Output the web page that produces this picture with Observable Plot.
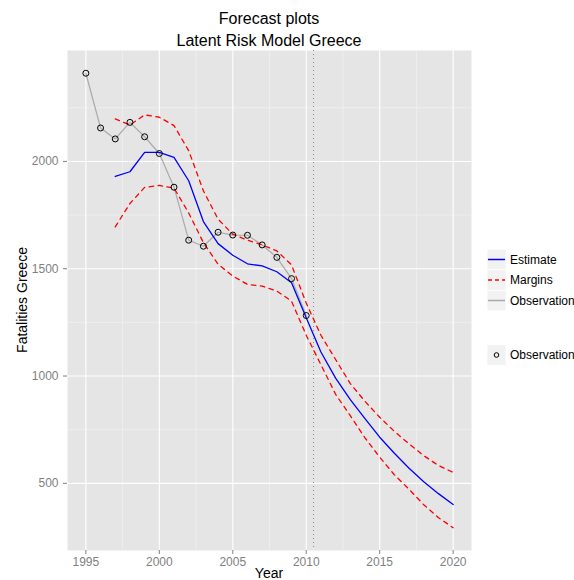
<!DOCTYPE html>
<html>
<head>
<meta charset="utf-8">
<script src="https://cdn.jsdelivr.net/npm/d3@7"></script>
<script src="https://cdn.jsdelivr.net/npm/@observablehq/plot@0.6"></script>
<style>
  html, body { margin: 0; padding: 0; background: #fff; }
  #chart svg { display: block; }
</style>
</head>
<body>
<div id="chart"></div>
<script>
// Observed road fatalities in Greece
const obsYears = d3.range(1995, 2011);
const observed = [2411, 2156, 2105, 2182, 2115, 2037, 1880, 1633, 1605, 1670, 1657, 1656, 1611, 1553, 1454, 1282];

// Latent risk model: fitted estimate and forecast with margins
const estYears = d3.range(1997, 2021);
const estimate = [1930, 1952, 2042, 2042, 2019, 1910, 1720, 1617, 1563, 1523, 1513, 1486, 1435,
                  1272, 1112, 990, 890, 802, 715, 640, 570, 507, 452, 401];
const upper    = [2198, 2170, 2217, 2206, 2167, 2050, 1863, 1731, 1661, 1633, 1611, 1583, 1518,
                  1340, 1190, 1077, 965, 882, 808, 742, 684, 629, 583, 551];
const lower    = [1695, 1804, 1879, 1888, 1876, 1760, 1622, 1521, 1466, 1427, 1419, 1396, 1349,
                  1190, 1053, 915, 815, 712, 622, 540, 472, 400, 340, 293];

// Start of the forecast period
const forecastStart = 2010.5;

// Axis ticks
const xTicks = [1995, 2000, 2005, 2010, 2015, 2020];
const xMinor = [1997.5, 2002.5, 2007.5, 2012.5, 2017.5];
const yTicks = [500, 1000, 1500, 2000];
const yMinor = [750, 1250, 1750, 2250];

const obs = obsYears.map((year, i) => ({year, value: observed[i]}));
const est = estYears.map((year, i) => ({year, value: estimate[i]}));
const up  = estYears.map((year, i) => ({year, value: upper[i]}));
const lo  = estYears.map((year, i) => ({year, value: lower[i]}));

const W = 574, H = 580;
const margin = {top: 50, right: 103, bottom: 30, left: 67};

const chart = Plot.plot({
  width: W,
  height: H,
  marginTop: margin.top,
  marginRight: margin.right,
  marginBottom: margin.bottom,
  marginLeft: margin.left,
  style: {fontFamily: "'Liberation Sans', Arial, sans-serif", fontSize: "12px", background: "#fff"},
  x: {domain: [1993.75, 2021.25], label: null},
  y: {domain: [187, 2517], label: null},
  marks: [
    Plot.frame({fill: "#e5e5e5", stroke: null}),
    Plot.gridX(xMinor, {stroke: "#f2f2f2", strokeOpacity: 1, strokeWidth: 0.7}),
    Plot.gridY(yMinor, {stroke: "#f2f2f2", strokeOpacity: 1, strokeWidth: 0.7}),
    Plot.gridX(xTicks, {stroke: "#fff", strokeOpacity: 1, strokeWidth: 1.1}),
    Plot.gridY(yTicks, {stroke: "#fff", strokeOpacity: 1, strokeWidth: 1.1}),
    Plot.axisX(xTicks, {tickSize: 4, tickPadding: 3, color: "#7f7f7f", tickFormat: d => String(d), label: null}),
    Plot.axisY(yTicks, {tickSize: 4, tickPadding: 5, color: "#7f7f7f", tickFormat: d => String(d), label: null}),
    Plot.ruleX([forecastStart], {stroke: "#8a8a8a", strokeWidth: 1, strokeDasharray: "1,3"}),
    Plot.line(obs, {x: "year", y: "value", stroke: "#a9a9a9", strokeWidth: 1.2}),
    Plot.line(est, {x: "year", y: "value", stroke: "#0000ff", strokeWidth: 1.3}),
    Plot.line(up,  {x: "year", y: "value", stroke: "#ff0000", strokeWidth: 1.3, strokeDasharray: "4.5,4.5"}),
    Plot.line(lo,  {x: "year", y: "value", stroke: "#ff0000", strokeWidth: 1.3, strokeDasharray: "4.5,4.5"}),
    Plot.dot(obs, {x: "year", y: "value", r: 3, stroke: "#000", strokeWidth: 1, fill: "none"})
  ]
});

document.getElementById("chart").appendChild(chart);

// Titles, axis titles and legend
const svg = d3.select(chart);
const font = "'Liberation Sans', Arial, sans-serif";
const cx = margin.left + (W - margin.left - margin.right) / 2;

svg.append("text").attr("x", cx).attr("y", 24).attr("text-anchor", "middle")
  .attr("font-family", font).attr("font-size", 16).attr("fill", "#000").text("Forecast plots");
svg.append("text").attr("x", cx).attr("y", 46).attr("text-anchor", "middle")
  .attr("font-family", font).attr("font-size", 16).attr("fill", "#000").text("Latent Risk Model Greece");

svg.append("text").attr("x", cx).attr("y", 578).attr("text-anchor", "middle")
  .attr("font-family", font).attr("font-size", 14).attr("fill", "#000").text("Year");
svg.append("text")
  .attr("transform", `translate(27, ${margin.top + (H - margin.top - margin.bottom) / 2}) rotate(-90)`)
  .attr("text-anchor", "middle")
  .attr("font-family", font).attr("font-size", 14).attr("fill", "#000").text("Fatalities Greece");

const legendItems = [
  {label: "Estimate", stroke: "#0000ff", dash: null, cy: 259.5},
  {label: "Margins", stroke: "#ff0000", dash: "4,3", cy: 280},
  {label: "Observation", stroke: "#a9a9a9", dash: null, cy: 300.5}
];
const keyX = 487, keyW = 19, keyH = 20.5;
const lg = svg.append("g").attr("font-family", font).attr("font-size", 12).attr("text-anchor", "start");
for (const d of legendItems) {
  lg.append("rect").attr("x", keyX).attr("y", d.cy - keyH / 2).attr("width", keyW).attr("height", keyH)
    .attr("fill", "#f2f2f2").attr("stroke", "#fff").attr("stroke-width", 0.8);
  lg.append("line").attr("x1", keyX + 1).attr("x2", keyX + keyW - 1).attr("y1", d.cy).attr("y2", d.cy)
    .attr("stroke", d.stroke).attr("stroke-width", 1.5).attr("stroke-dasharray", d.dash);
  lg.append("text").attr("x", 510).attr("y", d.cy + 4.3).attr("fill", "#000").text(d.label);
}
const pointKeyY = 355;
lg.append("rect").attr("x", keyX).attr("y", pointKeyY - keyH / 2).attr("width", keyW).attr("height", keyH)
  .attr("fill", "#f2f2f2").attr("stroke", "#fff").attr("stroke-width", 0.8);
lg.append("circle").attr("cx", keyX + keyW / 2).attr("cy", pointKeyY).attr("r", 2.3)
  .attr("fill", "none").attr("stroke", "#000").attr("stroke-width", 1);
lg.append("text").attr("x", 510).attr("y", pointKeyY + 4.3).attr("fill", "#000").text("Observation");
</script>
</body>
</html>
